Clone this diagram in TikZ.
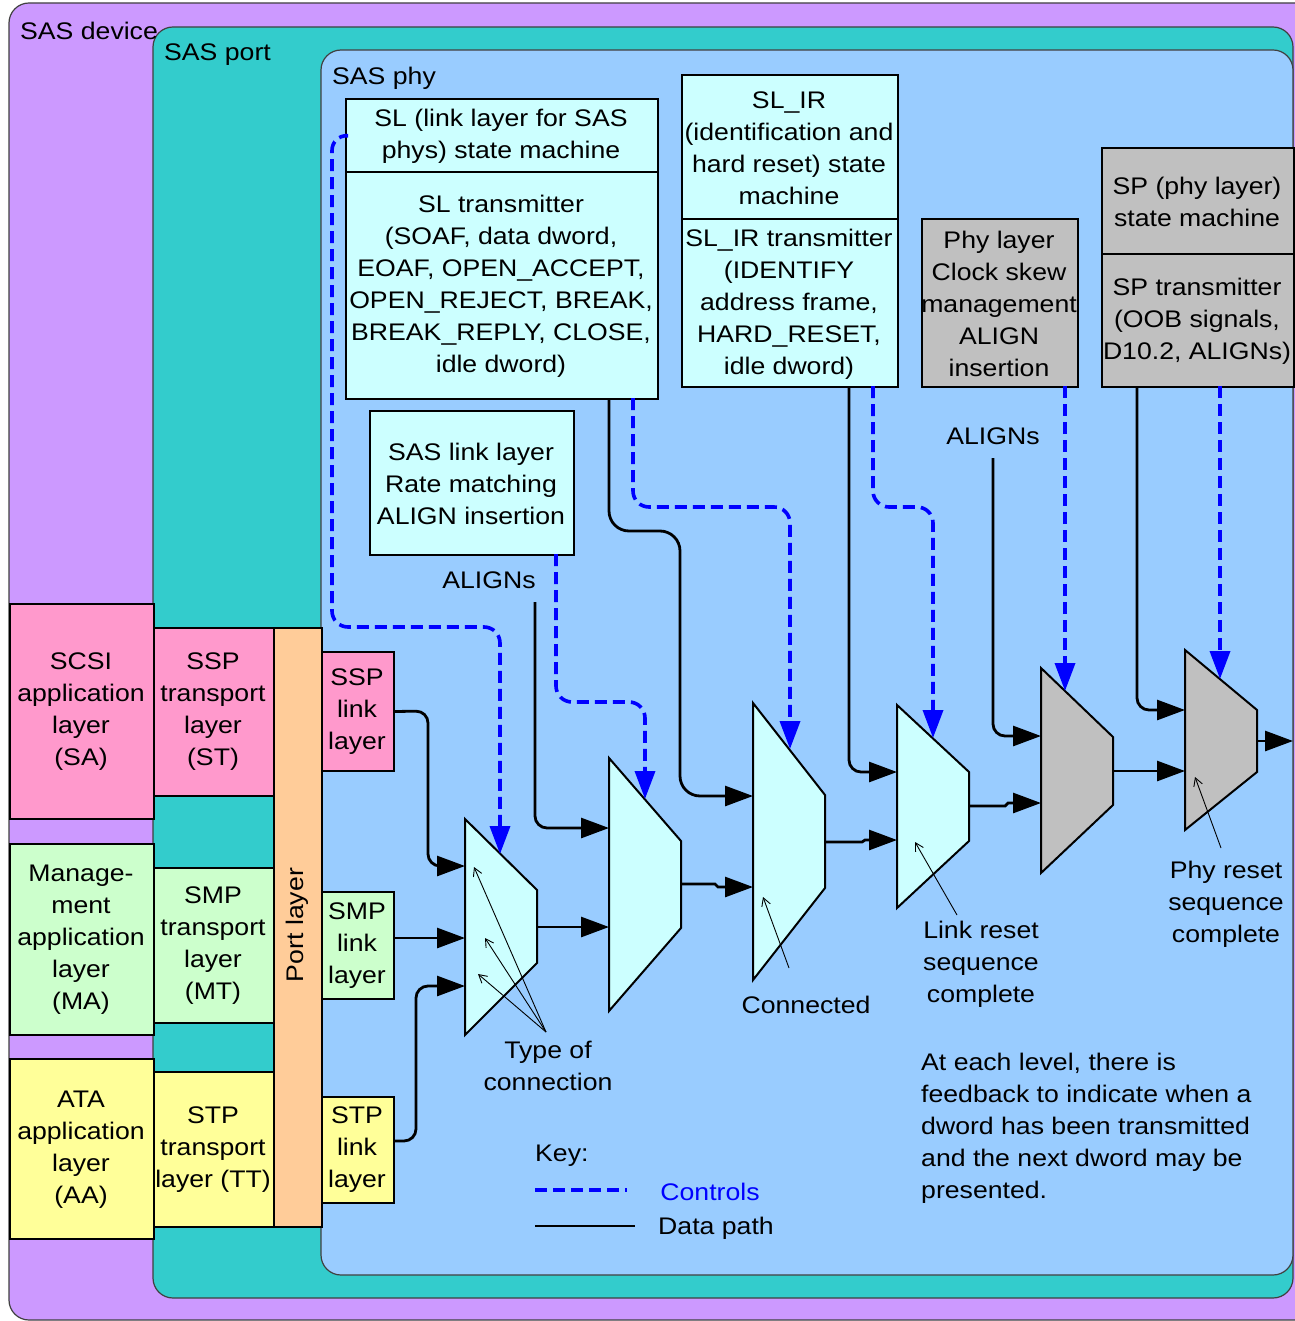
\documentclass[tikz,border=0pt]{standalone}
\usepackage{fontspec}
\setmainfont[FakeStretch=1.11]{Liberation Sans}
\usetikzlibrary{arrows.meta,calc}
\definecolor{devc}{HTML}{CC99FF}
\definecolor{portc}{HTML}{33CCCC}
\definecolor{phyc}{HTML}{99CCFF}
\definecolor{cyanc}{HTML}{CCFFFF}
\definecolor{grayc}{HTML}{C0C0C0}
\definecolor{pinkc}{HTML}{FF99CC}
\definecolor{greenc}{HTML}{CCFFCC}
\definecolor{yellowc}{HTML}{FFFF99}
\definecolor{orangec}{HTML}{FFCC99}
\definecolor{ctrlc}{HTML}{0000FF}
\begin{document}
\begin{tikzpicture}[x=1pt,y=-1pt,
  font=\fontsize{24}{32}\selectfont,
  region/.style={draw=black!75,line width=1.2pt,rounded corners=20pt},
  box/.style={draw=black,line width=2pt,inner sep=0pt,anchor=north west},
  txt/.style={align=center,inner sep=0pt,yshift=-2pt},
  lbl/.style={anchor=west,inner sep=0pt,yshift=-2pt},
  mux/.style={draw=black,line width=2pt,line join=miter},
  data/.style={draw=black,line width=2.8pt,rounded corners=12pt,-{Triangle[length=28pt,width=20pt]}},
  ctrl/.style={draw=ctrlc,line width=3.6pt,dash pattern=on 12pt off 6pt,rounded corners=16pt,-{Triangle[length=28pt,width=20pt]}},
  ptr/.style={draw=black,line width=0.9pt,-{Straight Barb[length=8pt,width=9pt]}}]
\useasboundingbox (0,0) rectangle (1294,1321);
% regions
\path[region,fill=devc] (9,3) rectangle (1320,1320);
\path[region,fill=portc] (153,27) rectangle (1293,1298);
\path[region,fill=phyc] (321,50) rectangle (1293,1275);
\node[lbl] (devlbl) at (20,29) {SAS device};
\node[lbl] (portlbl) at (164,53) {SAS port};
\node[lbl] (phylbl) at (332,76) {SAS phy};
% top boxes
\node[box,fill=cyanc,minimum width=312pt,minimum height=73pt] (slsm) at (345,98) {};
\node[box,fill=cyanc,minimum width=312pt,minimum height=227pt] (sltx) at (345,171) {};
\node[txt] (slsmt) at (501,134) {SL (link layer for SAS\\phys) state machine};
\node[txt] (sltxt) at (501,284) {SL transmitter\\(SOAF, data dword,\\EOAF, OPEN\_ACCEPT,\\OPEN\_REJECT, BREAK,\\BREAK\_REPLY, CLOSE,\\idle dword)};
\node[box,fill=cyanc,minimum width=216pt,minimum height=144pt] (irsm) at (681,74) {};
\node[box,fill=cyanc,minimum width=216pt,minimum height=168pt] (irtx) at (681,218) {};
\node[txt] (irsmt) at (789,146) {SL\_IR\\(identification and\\hard reset) state\\machine};
\node[txt] (irtxt) at (789,302) {SL\_IR transmitter\\(IDENTIFY\\address frame,\\HARD\_RESET,\\idle dword)};
\node[box,fill=grayc,minimum width=156pt,minimum height=168pt] (phyl) at (921,218) {};
\node[txt] (phylt) at (999,302) {Phy layer\\Clock skew\\management\\ALIGN\\insertion};
\node[box,fill=grayc,minimum width=192pt,minimum height=106pt] (spsm) at (1101,147) {};
\node[box,fill=grayc,minimum width=192pt,minimum height=133pt] (sptx) at (1101,253) {};
\node[txt] (spsmt) at (1197,200) {SP (phy layer)\\state machine};
\node[txt] (sptxt) at (1197,319) {SP transmitter\\(OOB signals,\\D10.2, ALIGNs)};
\node[box,fill=cyanc,minimum width=204pt,minimum height=144pt] (rate) at (369,410) {};
\node[txt] (ratet) at (471,482) {SAS link layer\\Rate matching\\ALIGN insertion};
% left column
\node[box,fill=pinkc,minimum width=144pt,minimum height=215pt] (sa) at (9,603) {};
\node[txt] (sat) at (81,710) {SCSI\\application\\layer\\(SA)};
\node[box,fill=greenc,minimum width=144pt,minimum height=191pt] (ma) at (9,843) {};
\node[txt] (mat) at (81,938) {Manage-\\ment\\application\\layer\\(MA)};
\node[box,fill=yellowc,minimum width=144pt,minimum height=180pt] (aa) at (9,1058) {};
\node[txt] (aat) at (81,1148) {ATA\\application\\layer\\(AA)};
\node[box,fill=pinkc,minimum width=120pt,minimum height=168pt] (st) at (153,627) {};
\node[txt] (stt) at (213,710) {SSP\\transport\\layer\\(ST)};
\node[box,fill=greenc,minimum width=120pt,minimum height=155pt] (mt) at (153,867) {};
\node[txt] (mtt) at (213,944) {SMP\\transport\\layer\\(MT)};
\node[box,fill=yellowc,minimum width=120pt,minimum height=155pt] (tt) at (153,1071) {};
\node[txt] (ttt) at (213,1148) {STP\\transport\\layer (TT)};
\node[box,fill=orangec,minimum width=48pt,minimum height=599pt] (port) at (273,627) {};
\node[align=center,inner sep=0pt,rotate=90] (portt) at (297,925) {Port layer};
\node[box,fill=pinkc,minimum width=72pt,minimum height=119pt] (ssplink) at (321,651) {};
\node[txt] (ssplinkt) at (357,710) {SSP\\link\\layer};
\node[box,fill=greenc,minimum width=72pt,minimum height=107pt] (smplink) at (321,891) {};
\node[txt] (smplinkt) at (357,944) {SMP\\link\\layer};
\node[box,fill=yellowc,minimum width=72pt,minimum height=106pt] (stplink) at (321,1096) {};
\node[txt] (stplinkt) at (357,1148) {STP\\link\\layer};
% muxes
\draw[mux,fill=cyanc] (465,819) -- (537,890) -- (537,963) -- (465,1035) -- cycle;
\draw[mux,fill=cyanc] (609,758) -- (681,841) -- (681,928) -- (609,1011) -- cycle;
\draw[mux,fill=cyanc] (753,703) -- (825,795) -- (825,888) -- (753,980) -- cycle;
\draw[mux,fill=cyanc] (897,705) -- (969,772) -- (969,841) -- (897,908) -- cycle;
\draw[mux,fill=grayc] (1041,668) -- (1113,737) -- (1113,805) -- (1041,873) -- cycle;
\draw[mux,fill=grayc] (1185,650) -- (1257,710) -- (1257,772) -- (1185,830) -- cycle;
\coordinate (m1in1) at (465,866); \coordinate (m1in2) at (465,938);
\coordinate (m1in3) at (465,986); \coordinate (m1out) at (537,927);
\coordinate (m2in1) at (609,828); \coordinate (m2in2) at (609,927);
\coordinate (m2out) at (681,884);
\coordinate (m3in1) at (753,796); \coordinate (m3in2) at (753,887);
\coordinate (m3out) at (825,842);
\coordinate (m4in1) at (897,772); \coordinate (m4in2) at (897,840);
\coordinate (m4out) at (969,806);
\coordinate (m5in1) at (1041,736); \coordinate (m5in2) at (1041,803);
\coordinate (m5out) at (1113,771);
\coordinate (m6in1) at (1185,710); \coordinate (m6in2) at (1185,771);
\coordinate (m6out) at (1257,741); \coordinate (outend) at (1293,741);
\coordinate (m1c) at (500,854); \coordinate (m2c) at (645,799);
\coordinate (m3c) at (790,749); \coordinate (m4c) at (933,738);
\coordinate (m5c) at (1065,691); \coordinate (m6c) at (1220,679);
% labels
\node[txt] (al1) at (489,578) {ALIGNs};
\node[txt] (al2) at (993,434) {ALIGNs};
\coordinate (al1s) at (535,602);
\coordinate (al2s) at (993,458);
% data paths
\draw[data] (ssplink.east) -- (428,711) -- (428,866) -- (m1in1);
\draw[data] (393,938) -- (m1in2);
\draw[data] (393,1141) -- (416,1141) -- (416,986) -- (m1in3);
\draw[data] (m1out) -- (m2in2);
\draw[data] (al1s) -- (535,828) -- (m2in1);
\draw[data,rounded corners=20pt] (609,398) -- (609,531) -- (680,531) -- (680,796) -- (m3in1);
\draw[data,rounded corners=0pt] (m2out) -- (715,884) -- (718,887) -- (m3in2);
\draw[data] (849,386) -- (849,772) -- (m4in1);
\draw[data,rounded corners=0pt] (m3out) -- (862,842) -- (865,840) -- (m4in2);
\draw[data] (al2s) -- (993,736) -- (m5in1);
\draw[data,rounded corners=0pt] (m4out) -- (1005,806) -- (1008,803) -- (m5in2);
\draw[data] (1137,386) -- (1137,710) -- (m6in1);
\draw[data] (m5out) -- (m6in2);
\draw[data] (m6out) -- (outend);
% controls
\draw[ctrl] (slsm.west) -- (332,134.5) -- (332,627) -- (500,627) -- (m1c);
\draw[ctrl] (633,398) -- (633,507) -- (790,507) -- (m3c);
\draw[ctrl] (556,554) -- (556,702) -- (645,702) -- (m2c);
\draw[ctrl] (873,386) -- (873,507) -- (933,507) -- (m4c);
\draw[ctrl] (1065,386) -- (m5c);
\draw[ctrl] (1220,386) -- (m6c);
% annotations
\node[txt] (typec) at (548,1064) {Type of\\connection};
\coordinate (tcp) at (546,1032);
\draw[ptr] (tcp) -- (474,867);
\draw[ptr] (tcp) -- (485,938);
\draw[ptr] (tcp) -- (478,974);
\node[txt] (conn) at (806,1003) {Connected};
\draw[ptr] (789,968) -- (763,897);
\node[txt] (lrsc) at (981,962) {Link reset\\sequence\\complete};
\draw[ptr] (957,915) -- (915,842);
\node[txt] (prsc) at (1226,902) {Phy reset\\sequence\\complete};
\draw[ptr] (1221,848) -- (1195,777);
% key
\node[lbl] (key) at (535,1154) {Key:};
\coordinate (k1a) at (535,1190); \coordinate (k1b) at (627,1190);
\coordinate (k2a) at (535,1226); \coordinate (k2b) at (635,1226);
\draw[draw=ctrlc,line width=3.6pt,dash pattern=on 12pt off 6pt] (k1a) -- (k1b);
\draw[line width=2.8pt] (k2a) -- (k2b);
\node[txt,text=ctrlc] (kctrl) at (710,1190) {Controls};
\node[txt] (kdata) at (716,1226) {Data path};
\node[lbl,align=left] (fb) at (921,1126) {At each level, there is\\feedback to indicate when a\\dword has been transmitted\\and the next dword may be\\presented.};
\end{tikzpicture}
\end{document}
